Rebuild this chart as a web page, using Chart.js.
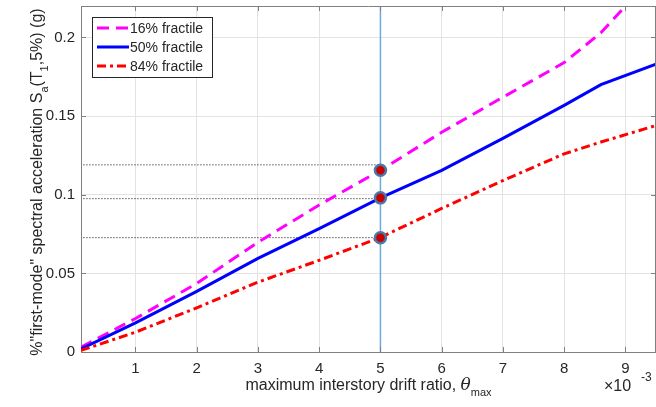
<!DOCTYPE html>
<html>
<head>
<meta charset="utf-8">
<title>Sa vs drift fractiles</title>
<script src="https://cdn.jsdelivr.net/npm/chart.js@4.4.1/dist/chart.umd.min.js"></script>
<style>
    html, body { margin: 0; padding: 0; background: #fff; }
    canvas { display: block; }
</style>
</head>
<body>
<canvas id="fractileChart" width="656" height="407"></canvas>
<script>
// Drift ratio samples, in units of 10^-3 (as on the axis)
const driftRatio = [0.11, 1, 2, 3, 4, 5, 6, 7, 8, 8.6, 9.5];
// Sa(T1,5%) in g for each fractile
const sa16 = [0.003, 0.0213, 0.0436, 0.0698, 0.0935, 0.1155, 0.1397, 0.162, 0.184, 0.203, 0.241];
const sa50 = [0.002, 0.0185, 0.0385, 0.0595, 0.0785, 0.098, 0.1155, 0.1358, 0.1568, 0.170, 0.183];
const sa84 = [0.001, 0.0126, 0.0281, 0.0444, 0.0583, 0.0728, 0.0913, 0.109, 0.126, 0.1335, 0.144];
const seriesNames = ['16% fractile', '50% fractile', '84% fractile'];

// Marked drift and the values read there
const markDrift = 5;
const markSa = [0.1155, 0.098, 0.0727];
const guideSa = [0.119, 0.0975, 0.0727];
const guideStart = 0.15;

const xTicks = [1, 2, 3, 4, 5, 6, 7, 8, 9];
const yTicks = [0, 0.05, 0.1, 0.15, 0.2];

const FONT = '"Liberation Sans", Arial, Helvetica, sans-serif';
const AXIS_GRAY = '#808080';
const TEXT = '#262626';

function toPoints(xs, ys) {
    return xs.map((x, i) => ({ x: x, y: ys[i] }));
}

const styles = [
    { color: '#ff00ff', dash: [12, 7] },
    { color: '#0000ff', dash: [] },
    { color: '#ff0000', dash: [9, 4, 3, 4] }
];

// draws text made of pieces with sub/superscripts, centred at x
function drawRich(ctx, parts, x, y) {
    let total = 0;
    parts.forEach(p => {
        ctx.font = p.font;
        p.w = ctx.measureText(p.t).width;
        total += p.w;
    });
    let cx = x - total / 2;
    parts.forEach(p => {
        ctx.font = p.font;
        ctx.fillText(p.t, cx, y + (p.dy || 0));
        cx += p.w;
    });
}

const decorPlugin = {
    id: 'decor',
    afterDraw(chart) {
        const ctx = chart.ctx;
        const a = chart.chartArea;
        const xs = chart.scales.x, ys = chart.scales.y;
        ctx.save();

        // box + inward ticks
        ctx.strokeStyle = AXIS_GRAY;
        ctx.lineWidth = 1;
        ctx.beginPath();
        ctx.moveTo(a.left, a.top + 0.5);
        ctx.lineTo(a.right, a.top + 0.5);
        ctx.moveTo(a.right - 0.5, a.top);
        ctx.lineTo(a.right - 0.5, a.bottom);
        xTicks.forEach(v => {
            const px = Math.round(xs.getPixelForValue(v)) + 0.5;
            ctx.moveTo(px, a.bottom); ctx.lineTo(px, a.bottom - 5);
            ctx.moveTo(px, a.top); ctx.lineTo(px, a.top + 5);
        });
        yTicks.forEach(v => {
            const py = Math.round(ys.getPixelForValue(v)) + 0.5;
            ctx.moveTo(a.left, py); ctx.lineTo(a.left + 5, py);
            ctx.moveTo(a.right, py); ctx.lineTo(a.right - 5, py);
        });
        ctx.stroke();

        // legend
        const lx = 92.5, ly = 17.5, lw = 120, lh = 60;
        ctx.fillStyle = '#fff';
        ctx.fillRect(lx, ly, lw, lh);
        ctx.strokeStyle = '#262626';
        ctx.strokeRect(lx, ly, lw, lh);
        ctx.font = '14px ' + FONT;
        ctx.textBaseline = 'middle';
        ctx.textAlign = 'left';
        seriesNames.forEach((name, i) => {
            const yy = 28 + i * 19;
            ctx.strokeStyle = styles[i].color;
            ctx.lineWidth = 3;
            ctx.setLineDash(styles[i].dash);
            ctx.beginPath();
            ctx.moveTo(97, yy);
            ctx.lineTo(129, yy);
            ctx.stroke();
            ctx.setLineDash([]);
            ctx.fillStyle = TEXT;
            ctx.fillText(name, 130, yy + 1);
        });

        // axis titles
        ctx.fillStyle = TEXT;
        ctx.textBaseline = 'alphabetic';
        const f16 = '16px ' + FONT, f11 = '11px ' + FONT;
        drawRich(ctx, [
            { t: 'maximum interstory drift ratio, ', font: f16 },
            { t: '\u03b8', font: 'italic 17px "DejaVu Serif", serif' },
            { t: 'max', font: f11, dy: 6 }
        ], (a.left + a.right) / 2, 390);

        ctx.save();
        ctx.translate(42, (a.top + a.bottom) / 2 + 3);
        ctx.rotate(-Math.PI / 2);
        drawRich(ctx, [
            { t: '%"first-mode" spectral acceleration S', font: f16 },
            { t: 'a', font: f11, dy: 6 },
            { t: '(T', font: f16 },
            { t: '1', font: f11, dy: 6 },
            { t: ',5%) (g)', font: f16 }
        ], 0, 0);
        ctx.restore();

        // exponent label
        ctx.textAlign = 'left';
        ctx.font = '16px ' + FONT;
        ctx.fillText('\u00d710', 604, 391);
        ctx.font = '12px ' + FONT;
        ctx.fillText('-3', 641, 381);

        ctx.restore();
    }
};

const datasets = [];
guideSa.forEach(v => {
    datasets.push({
        data: [{ x: guideStart, y: v }, { x: markDrift, y: v }],
        borderColor: '#000',
        borderWidth: 1,
        borderDash: [1, 2],
        pointRadius: 0,
        order: 6
    });
});
datasets.push({
    data: [{ x: markDrift, y: 0 }, { x: markDrift, y: 0.22 }],
    borderColor: '#6fa8dc',
    borderWidth: 1.5,
    pointRadius: 0,
    order: 5
});
[sa16, sa50, sa84].forEach((vals, i) => {
    datasets.push({
        label: seriesNames[i],
        data: toPoints(driftRatio, vals),
        borderColor: styles[i].color,
        borderDash: styles[i].dash,
        borderWidth: 3,
        pointRadius: 0,
        tension: 0,
        order: 4 - i
    });
});
datasets.push({
    data: markSa.map(v => ({ x: markDrift, y: v })),
    showLine: false,
    pointRadius: 5.5,
    pointBackgroundColor: '#c80000',
    pointBorderColor: '#4a78a8',
    pointBorderWidth: 2.5,
    order: 0
});

new Chart(document.getElementById('fractileChart'), {
    type: 'line',
    data: { datasets: datasets },
    options: {
        responsive: false,
        animation: false,
        layout: { autoPadding: false, padding: { top: 6, right: 0, left: 0, bottom: 0 } },
        plugins: {
            legend: { display: false },
            tooltip: { enabled: false }
        },
        scales: {
            x: {
                type: 'linear',
                min: 0.11,
                max: 9.5,
                afterBuildTicks: s => { s.ticks = xTicks.map(v => ({ value: v })); },
                afterFit: s => { s.height = 55; s.paddingLeft = 0; s.paddingRight = 0; },
                grid: { color: '#e3e3e3', drawTicks: false },
                border: { color: AXIS_GRAY, width: 1 },
                ticks: {
                    padding: 8, color: TEXT, maxRotation: 0, autoSkip: false,
                    font: { family: FONT, size: 15 },
                    callback: v => String(v)
                }
            },
            y: {
                type: 'linear',
                min: 0,
                max: 0.22,
                afterBuildTicks: s => { s.ticks = yTicks.map(v => ({ value: v })); },
                afterFit: s => { s.width = 81; s.paddingTop = 0; s.paddingBottom = 0; },
                grid: { color: '#e3e3e3', drawTicks: false },
                border: { color: AXIS_GRAY, width: 1 },
                ticks: {
                    padding: 6, color: TEXT, autoSkip: false,
                    font: { family: FONT, size: 15 },
                    callback: v => String(v)
                }
            }
        }
    },
    plugins: [decorPlugin]
});
</script>
</body>
</html>
